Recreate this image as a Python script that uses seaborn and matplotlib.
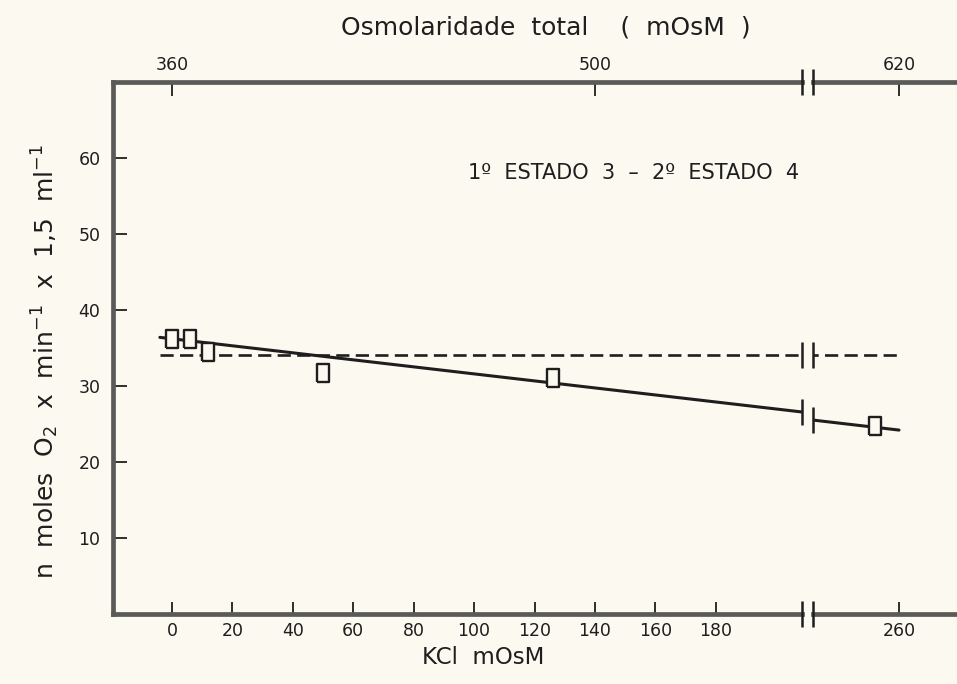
import numpy as np
import pandas as pd
import matplotlib
matplotlib.use("Agg")
import matplotlib.pyplot as plt
from matplotlib.transforms import blended_transform_factory
import seaborn as sns

# Measured O2 consumption vs. added KCl
kcl = [0, 6, 12, 50, 126, 252]
rate = [36.2, 36.2, 34.5, 31.7, 31.1, 24.7]

# Fitted regression line and control level (dashed)
fit_kcl = [-4, 260]
fit_rate = [36.4, 24.2]
ctrl_kcl = [-4, 260]
ctrl_rate = [34.1, 34.1]

# Axis ticks
y_ticks = [10, 20, 30, 40, 50, 60]
x_ticks_left = [0, 20, 40, 60, 80, 100, 120, 140, 160, 180]
x_ticks_right = [260]
osm_ticks_left = [360, 500]
osm_ticks_right = [620]
osm_offset = 360

BG = "#fbf9f0"
INK = "#1e1e1e"
SPINE = "#5a5a58"

sns.set_theme(style="ticks")
plt.rcParams["font.family"] = ["DejaVu Sans"]
plt.rcParams["mathtext.default"] = "regular"

fig = plt.figure(figsize=(9.57, 6.84), dpi=100, facecolor=BG)
W, H = 957, 684
ax1 = fig.add_axes([113 / W, 1 - 614 / H, (802 - 113) / W, (614 - 82) / H])
ax2 = fig.add_axes([813 / W, 1 - 614 / H, (957 - 813) / W, (614 - 82) / H], sharey=ax1)

df_pts = pd.DataFrame({"kcl": kcl, "rate": rate})
df_fit = pd.DataFrame({"kcl": fit_kcl, "rate": fit_rate})
df_ctrl = pd.DataFrame({"kcl": ctrl_kcl, "rate": ctrl_rate})

box = [(-0.32, -0.5), (0.32, -0.5), (0.32, 0.5), (-0.32, 0.5), (-0.32, -0.5)]

for ax in (ax1, ax2):
    ax.set_facecolor(BG)
    sns.lineplot(data=df_ctrl, x="kcl", y="rate", ax=ax, color=INK, lw=1.9,
                 linestyle=(0, (5, 2.4)), zorder=2)
    sns.lineplot(data=df_fit, x="kcl", y="rate", ax=ax, color=INK, lw=2.2, zorder=2)
    sns.scatterplot(data=df_pts, x="kcl", y="rate", ax=ax, marker=box, s=175,
                    facecolor=BG, edgecolor=INK, linewidth=1.7, zorder=3)
    ax.set_ylim(0, 70)
    ax.set_xlabel("")
    ax.set_ylabel("")
    for side in ("top", "bottom", "left", "right"):
        ax.spines[side].set_color(SPINE)
        ax.spines[side].set_linewidth(3.4)
    ax.tick_params(axis="x", direction="in", length=9, width=1.3, color=INK,
                   labelsize=12.5, labelcolor=INK, pad=6)

ax1.set_xlim(-19.5, 208.5)
ax2.set_xlim(231.5, 279.2)
ax1.spines["right"].set_visible(False)
ax2.spines["left"].set_visible(False)
ax2.spines["right"].set_visible(False)

ax1.set_xticks(x_ticks_left)
ax2.set_xticks(x_ticks_right)
ax1.set_yticks(y_ticks)
ax1.tick_params(axis="y", direction="in", length=10, width=1.3, color=INK,
                labelsize=12.5, labelcolor=INK, pad=9)
ax2.tick_params(axis="y", left=False, labelleft=False)

# Total osmolarity on the top axis
for ax, ticks in ((ax1, osm_ticks_left), (ax2, osm_ticks_right)):
    sec = ax.secondary_xaxis("top", functions=(lambda k: k + osm_offset,
                                               lambda o: o - osm_offset))
    sec.set_xticks(ticks)
    sec.tick_params(direction="in", length=10, width=1.3, color=INK,
                    labelsize=12.5, labelcolor=INK, pad=6)
    sec.spines["top"].set_visible(False)

# Break marks on the frame and on both lines
half = 1.7
for ax, xa in ((ax1, 1.0), (ax2, 0.0)):
    tr = blended_transform_factory(ax.transAxes, ax.transData)
    x_edge = ax.get_xlim()[1] if xa == 1.0 else ax.get_xlim()[0]
    y_fit = np.interp(x_edge, fit_kcl, fit_rate)
    for yc in (0, 70, ctrl_rate[0], y_fit):
        ax.plot([xa, xa], [yc - half, yc + half], transform=tr, color=INK,
                lw=1.8, clip_on=False, solid_capstyle="butt", zorder=4)

fig.text(483 / W, 1 - 657 / H, "KCl  mOsM", ha="center", va="center",
         fontsize=16.5, color=INK)
fig.text(546 / W, 1 - 28 / H, "Osmolaridade  total    (  mOsM  )", ha="center",
         va="center", fontsize=18, color=INK)
fig.text(45 / W, 1 - 362 / H,
         "n  moles  O$_2$  x  min$^{-1}$  x  1,5  ml$^{-1}$",
         ha="center", va="center", rotation=90, fontsize=18, color=INK)
ax1.text(98, 58.0, "1º  ESTADO  3  –  2º  ESTADO  4", ha="left", va="center",
         fontsize=15, color=INK)

fig.savefig("out.png", dpi=100, facecolor=BG)
